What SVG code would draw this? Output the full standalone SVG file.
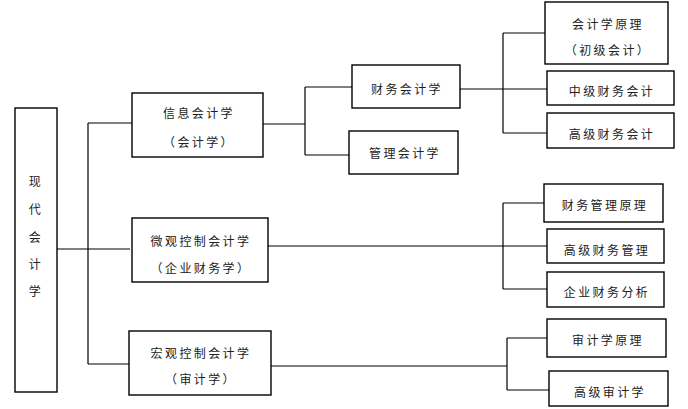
<svg xmlns="http://www.w3.org/2000/svg" width="688" height="409" viewBox="0 0 688 409">
<style>
rect{fill:#fff;stroke:#000;stroke-width:1.4}
text{font-family:"Noto Sans CJK SC","Noto Sans CJK JP",sans-serif;font-size:12px;letter-spacing:2.4px;fill:#222;text-anchor:middle;dominant-baseline:central}
.c path{fill:none;stroke:#000;stroke-width:1.2}
</style>
<rect x="0" y="0" width="688" height="409" style="fill:#fff;stroke:none"/>
<g class="c" id="connectors">
<path d="M57 249H130"/>
<path d="M88 123V364M88 123H132M88 364H129"/>
<path d="M263 124H305M305 87V155M305 87H352M305 155H349"/>
<path d="M460 89H503M503 33V133M503 33H545M503 89H547M503 133H547"/>
<path d="M268 246H503M503 203V289M503 203H544M503 246H547M503 289H547"/>
<path d="M271 366H507M507 338V390M507 338H547M507 390H549"/>
</g>
<g id="root"><rect x="15" y="108" width="42" height="284"/>
<text x="36" y="180">现</text><text x="36" y="208">代</text><text x="36" y="236">会</text><text x="36" y="263">计</text><text x="36" y="290">学</text></g>
<g id="info"><rect x="132" y="93" width="131" height="64"/><text x="199" y="112">信息会计学</text><text x="199" y="141">（会计学）</text></g>
<g id="fin"><rect x="352" y="65" width="108" height="43"/><text x="407" y="88">财务会计学</text></g>
<g id="mgmt"><rect x="349" y="131" width="109" height="43"/><text x="405" y="152">管理会计学</text></g>
<g id="principles"><rect x="545" y="2" width="123" height="62"/><text x="608" y="23">会计学原理</text><text x="608" y="49">（初级会计）</text></g>
<g id="intermediate"><rect x="547" y="71" width="127" height="34"/><text x="612" y="90">中级财务会计</text></g>
<g id="advanced"><rect x="547" y="113" width="127" height="35"/><text x="612" y="133">高级财务会计</text></g>
<g id="micro"><rect x="132" y="218" width="136" height="64"/><text x="201" y="240">微观控制会计学</text><text x="201" y="267">（企业财务学）</text></g>
<g id="fmp"><rect x="544" y="184" width="119" height="38"/><text x="605" y="204">财务管理原理</text></g>
<g id="afm"><rect x="547" y="229" width="117" height="34"/><text x="607" y="249">高级财务管理</text></g>
<g id="efa"><rect x="547" y="272" width="117" height="35"/><text x="607" y="291">企业财务分析</text></g>
<g id="macro"><rect x="129" y="331" width="142" height="64"/><text x="201" y="352">宏观控制会计学</text><text x="201" y="378">（审计学）</text></g>
<g id="audit"><rect x="547" y="319" width="119" height="38"/><text x="608" y="339">审计学原理</text></g>
<g id="aaudit"><rect x="549" y="371" width="119" height="35"/><text x="610" y="391">高级审计学</text></g>
</svg>
